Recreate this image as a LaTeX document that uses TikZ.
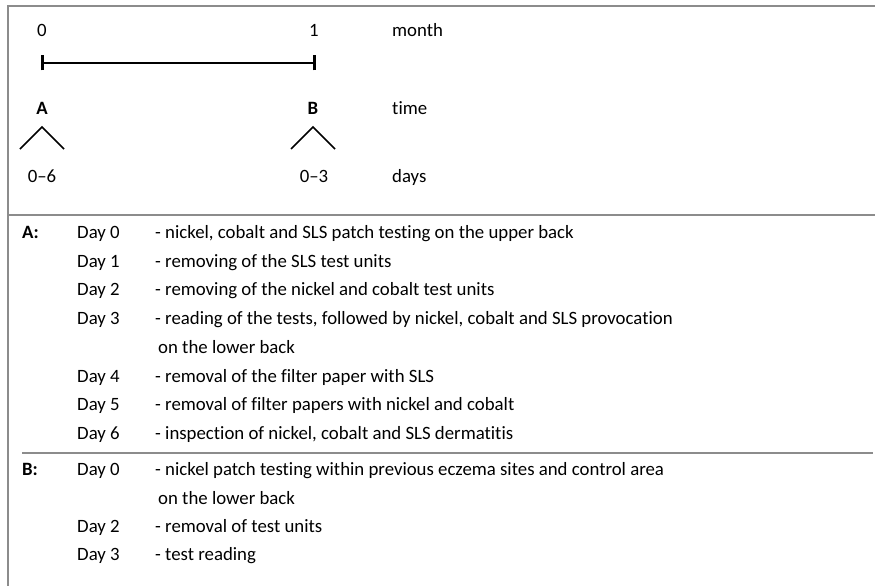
\documentclass[tikz,border=0pt]{standalone}
\usepackage{fontspec}
\setmainfont{Carlito}[Ligatures=NoCommon]
\begin{document}
\begin{tikzpicture}[x=1pt,y=-1pt,
  txt/.style={inner sep=0pt,anchor=mid west,font=\fontsize{18.8}{22}\selectfont,text=black},
  ctxt/.style={txt,anchor=mid},
  bld/.style={txt,font=\fontsize{18.8}{22}\selectfont\bfseries},
  cbld/.style={bld,anchor=mid},
  rule/.style={draw=black!45,line width=1.6pt},
  tl/.style={line width=1.6pt,black},
  tick/.style={line width=3pt,black},
  caret/.style={line width=1.5pt,black}]
\useasboundingbox (0,0) rectangle (875,586);
% frame
\draw[rule] (8,586) -- (8,6) -- (875,6);
\draw[rule] (8,215) -- (875,215);
\draw[rule] (22,453) -- (873,453);
% timeline
\node[ctxt] (m0) at (42,34) {0};
\node[ctxt] (m1) at (314,34) {1};
\node[txt] (month) at (392,34) {month};
\coordinate (t0) at (42,63);
\coordinate (t1) at (314,63);
\draw[tl] (t0) -- (t1);
\draw[tick] ([yshift=-7.5pt]t0) -- ([yshift=7.5pt]t0);
\draw[tick] ([yshift=-7.5pt]t1) -- ([yshift=7.5pt]t1);
\node[cbld] (A) at (42,112) {A};
\node[cbld] (B) at (313,112) {B};
\node[txt] (time) at (392,112) {time};
\coordinate (ca) at (42,127);
\coordinate (cb) at (313,127);
\draw[caret] ([xshift=-22pt,yshift=-22pt]ca) -- (ca) -- ([xshift=22pt,yshift=-22pt]ca);
\draw[caret] ([xshift=-22pt,yshift=-22pt]cb) -- (cb) -- ([xshift=22pt,yshift=-22pt]cb);
\node[ctxt] (dA) at (42,180) {0–6};
\node[ctxt] (dB) at (314,180) {0–3};
\node[txt] (days) at (392,180) {days};
% section A
\node[bld] (LA) at (22,236) {A:};
\node[txt] (a0) at (77,236) {Day 0};
\node[txt] (a0t) at (155,236) {- nickel, cobalt and SLS patch testing on the upper back};
\node[txt] (a1) at (77,265) {Day 1};
\node[txt] (a1t) at (155,265) {- removing of the SLS test units};
\node[txt] (a2) at (77,293) {Day 2};
\node[txt] (a2t) at (155,293) {- removing of the nickel and cobalt test units};
\node[txt] (a3) at (77,322) {Day 3};
\node[txt] (a3t) at (155,322) {- reading of the tests, followed by nickel, cobalt and SLS provocation};
\node[txt] (a3u) at (158,351) {on the lower back};
\node[txt] (a4) at (77,380) {Day 4};
\node[txt] (a4t) at (155,380) {- removal of the filter paper with SLS};
\node[txt] (a5) at (77,408) {Day 5};
\node[txt] (a5t) at (155,408) {- removal of filter papers with nickel and cobalt};
\node[txt] (a6) at (77,437) {Day 6};
\node[txt] (a6t) at (155,437) {- inspection of nickel, cobalt and SLS dermatitis};
% section B
\node[bld] (LB) at (22,473) {B:};
\node[txt] (b0) at (77,473) {Day 0};
\node[txt] (b0t) at (155,473) {- nickel patch testing within previous eczema sites and control area};
\node[txt] (b0u) at (158,502) {on the lower back};
\node[txt] (b2) at (77,530) {Day 2};
\node[txt] (b2t) at (155,530) {- removal of test units};
\node[txt] (b3) at (77,558) {Day 3};
\node[txt] (b3t) at (155,558) {- test reading};
\end{tikzpicture}
\end{document}
